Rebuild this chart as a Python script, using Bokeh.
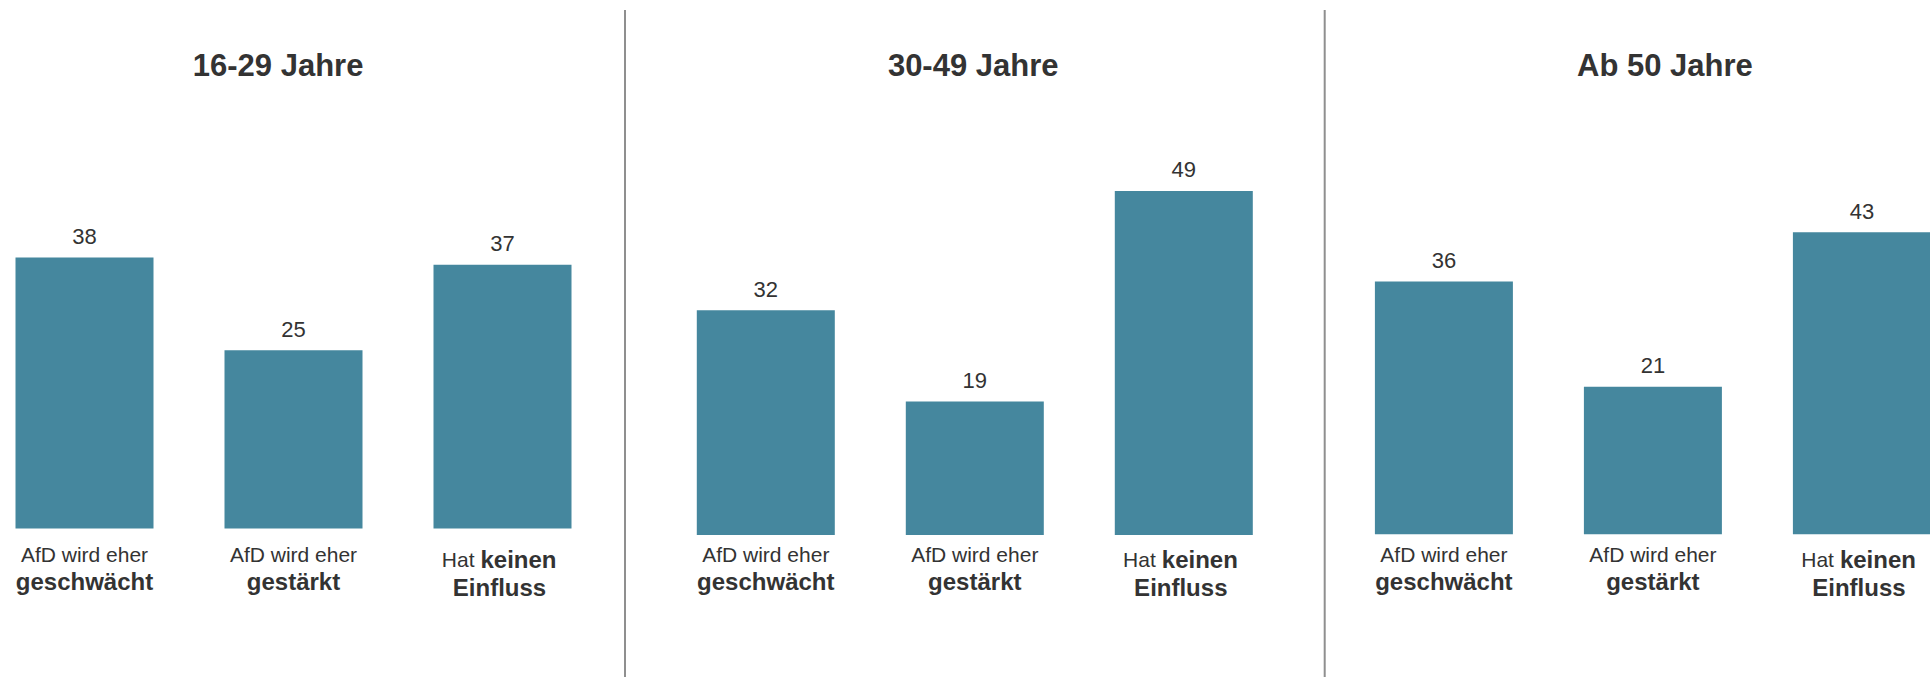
from bokeh.plotting import figure
from bokeh.layouts import row
from bokeh.models import Range1d, Label
from bokeh.core.properties import value
from bokeh.embed import file_html
from bokeh.resources import INLINE

# ---------------- data ----------------
panel_titles = ["16-29 Jahre", "30-49 Jahre", "Ab 50 Jahre"]
categories = ["AfD wird eher geschwächt", "AfD wird eher gestärkt", "Hat keinen Einfluss"]
label_line1_regular = ["AfD wird eher", "AfD wird eher", "Hat"]
label_line1_bold = ["", "", "keinen"]
label_line2_bold = ["geschwächt", "gestärkt", "Einfluss"]
values_16_29 = [38, 25, 37]
values_30_49 = [32, 19, 49]
values_ab_50 = [36, 21, 43]
panel_values = [values_16_29, values_30_49, values_ab_50]

# ---------------- style / layout ----------------
BAR_COLOR = "#45879e"
TEXT_COLOR = "#333333"
SEP_COLOR = "#8f8f8f"
FONT = "Liberation Sans"
PAGE_TOP, PAGE_BOTTOM = 0, 677
STEP = 209.0           # px between bar centres
BAR_WIDTH = 138.0 / STEP

layout_cfg = [
    dict(left=0, width=622, c0=84.0, base=528.0, ppu=7.13, title_x=277.6, sep=None),
    dict(left=622, width=699, c0=765.3, base=534.5, ppu=7.02, title_x=972.7, sep=624.5),
    dict(left=1321, width=609, c0=1443.4, base=533.7, ppu=7.02, title_x=1664.4, sep=1324.2),
]

# vertical text centres (px from top of page)
Y_TITLE = 65.0
Y_LINE1 = 553.5
Y_LINE2 = 580.6
Y_LINE1_B = 558.6
Y_LINE2_B = 587.4
VALUE_GAP = -21.2
SEP_TOP = 9.5


def make_panel(title, vals, cfg):
    def dx(px):
        return (px - cfg["c0"]) / STEP

    def dy(py):
        return (cfg["base"] - py) / cfg["ppu"]

    p = figure(width=cfg["width"], height=PAGE_BOTTOM - PAGE_TOP,
               x_range=Range1d(dx(cfg["left"]), dx(cfg["left"] + cfg["width"])),
               y_range=Range1d(dy(PAGE_BOTTOM), dy(PAGE_TOP)),
               x_axis_type=None, y_axis_type=None,
               toolbar_location=None, output_backend="svg",
               min_border=0, outline_line_color=None)
    p.grid.visible = False
    p.background_fill_color = "white"
    p.border_fill_color = "white"

    idx = list(range(len(categories)))
    p.vbar(x=idx, top=vals, bottom=0, width=BAR_WIDTH,
           fill_color=BAR_COLOR, line_color=None)

    # value labels
    p.text(x=idx, y=vals, text=[str(v) for v in vals],
           text_align="center", text_baseline="middle", y_offset=VALUE_GAP,
           text_font=value(FONT), text_font_size="22px", text_color=TEXT_COLOR)

    base = cfg["base"]
    # category labels
    for i in idx:
        if label_line1_bold[i]:
            p.text(x=[i], y=[0], text=[label_line1_regular[i]],
                   text_align="right", text_baseline="middle",
                   x_offset=-28, y_offset=Y_LINE1_B - base,
                   text_font=value(FONT), text_font_size="21px", text_color=TEXT_COLOR)
            p.text(x=[i], y=[0], text=[label_line1_bold[i]],
                   text_align="left", text_baseline="middle",
                   x_offset=-22, y_offset=Y_LINE1_B - base, text_font_style="bold",
                   text_font=value(FONT), text_font_size="24px", text_color=TEXT_COLOR)
            p.text(x=[i], y=[0], text=[label_line2_bold[i]],
                   text_align="center", text_baseline="middle",
                   x_offset=-3, y_offset=Y_LINE2_B - base, text_font_style="bold",
                   text_font=value(FONT), text_font_size="24px", text_color=TEXT_COLOR)
        else:
            p.text(x=[i], y=[0], text=[label_line1_regular[i]],
                   text_align="center", text_baseline="middle",
                   y_offset=Y_LINE1 - base,
                   text_font=value(FONT), text_font_size="21px", text_color=TEXT_COLOR)
            p.text(x=[i], y=[0], text=[label_line2_bold[i]],
                   text_align="center", text_baseline="middle",
                   y_offset=Y_LINE2 - base, text_font_style="bold",
                   text_font=value(FONT), text_font_size="24px", text_color=TEXT_COLOR)

    p.add_layout(Label(x=dx(cfg["title_x"]), y=dy(Y_TITLE), text=title,
                       text_align="center", text_baseline="middle",
                       text_font=FONT, text_font_size="31px",
                       text_font_style="bold", text_color=TEXT_COLOR))

    if cfg["sep"] is not None:
        p.segment(x0=[dx(cfg["sep"])], x1=[dx(cfg["sep"])],
                  y0=[dy(SEP_TOP)], y1=[dy(PAGE_BOTTOM)],
                  line_color=SEP_COLOR, line_width=2)
    return p


panels = [make_panel(t, v, c) for t, v, c in zip(panel_titles, panel_values, layout_cfg)]
layout = row(*panels, spacing=0)

open("out.html", "w").write(file_html(layout, INLINE))
